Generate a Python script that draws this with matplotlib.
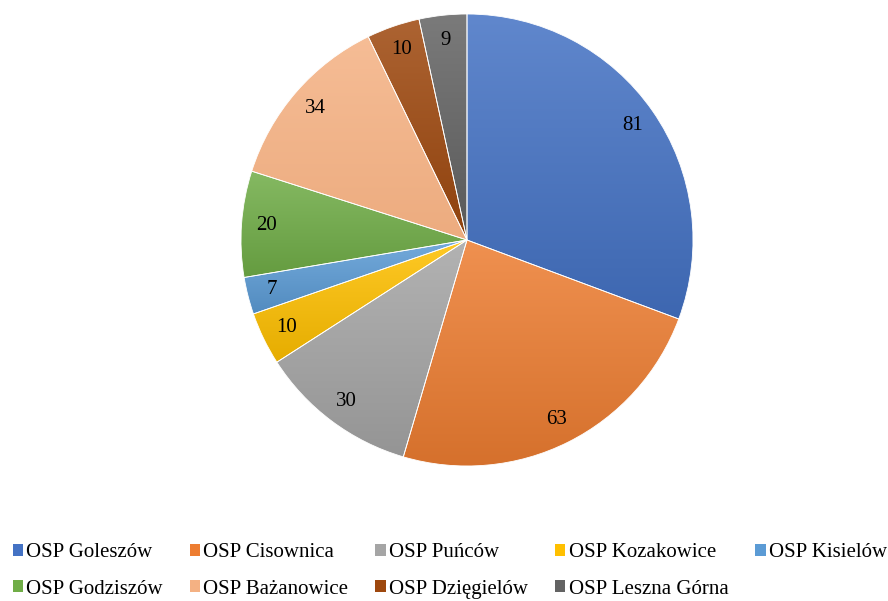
import numpy as np
import matplotlib.pyplot as plt
from matplotlib.colors import to_rgb, LinearSegmentedColormap
from matplotlib.patches import Patch

plt.rcParams['font.family'] = ['Liberation Serif', 'DejaVu Serif']

labels = ['OSP Goleszów', 'OSP Cisownica', 'OSP Puńców', 'OSP Kozakowice', 'OSP Kisielów',
          'OSP Godziszów', 'OSP Bażanowice', 'OSP Dzięgielów', 'OSP Leszna Górna']
values = [81, 63, 30, 10, 7, 20, 34, 10, 9]
colors = ['#4472C4', '#ED7D31', '#A5A5A5', '#FFC000', '#5B9BD5',
          '#70AD47', '#F4B183', '#9E480E', '#636363']


def shade(c, f):
    c = np.array(to_rgb(c))
    if f > 0:
        return tuple(c + (1 - c) * f)
    return tuple(c * (1 + f))


fig = plt.figure(figsize=(8.88, 6.01), dpi=100)
ax = fig.add_axes([(467 - 226) / 888, (601 - 240 - 226) / 601, 452 / 888, 452 / 601])

wedges, texts = ax.pie(values, colors=colors, startangle=90, counterclock=False,
                       labels=[str(v) for v in values], labeldistance=0.89,
                       wedgeprops=dict(edgecolor='white', linewidth=0.6),
                       textprops=dict(fontsize=15, color='black'))
for t in texts:
    t.set_ha('center')
    t.set_va('center')
    t.set_zorder(5)

# vertical gradient on each slice, lighter at the top
for w, c in zip(wedges, colors):
    ext = w.get_path().get_extents()
    lo = -0.1 if c != '#F4B183' else -0.03
    cmap = LinearSegmentedColormap.from_list('g', [shade(c, lo), shade(c, 0.15)])
    grad = np.linspace(0, 1, 256).reshape(-1, 1)
    im = ax.imshow(grad, cmap=cmap, origin='lower', aspect='auto',
                   extent=(ext.x0, ext.x1, ext.y0, ext.y1), zorder=2)
    im.set_clip_path(w)
    w.set_zorder(3)
    w.set_facecolor('none')

ax.set_xlim(-1, 1)
ax.set_ylim(-1, 1)
ax.set_aspect('equal')
ax.axis('off')

# legend fills column by column, so reorder to get row-wise layout
order = [0, 5, 1, 6, 2, 7, 3, 8, 4]
handles = [Patch(facecolor=colors[i], edgecolor='none') for i in order]
fig.legend(handles, [labels[i] for i in order], loc='lower left',
           bbox_to_anchor=(0.0, -0.017), ncol=5, frameon=False, fontsize=15,
           handlelength=0.5, handleheight=0.5, handletextpad=0.15,
           columnspacing=1.3, labelspacing=0.85, borderaxespad=0.2,
           bbox_transform=fig.transFigure)

plt.savefig('out.png', dpi=100)
